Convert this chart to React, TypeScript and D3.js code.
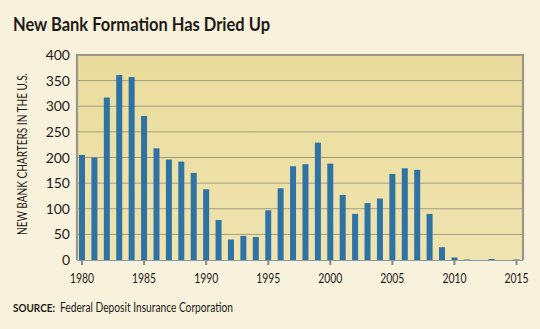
import React from "react";
import * as d3 from "d3";

const years = d3.range(1980, 2016);
const charters = [205, 200, 317, 361, 357, 281, 218, 196, 192, 170, 138, 78, 40, 47, 45, 97, 140, 183, 187, 229, 188, 127, 90, 111, 120, 168, 179, 176, 90, 25, 5, 1, 0, 2, 0, 1];
const yTicks = [0, 50, 100, 150, 200, 250, 300, 350, 400];
const xTicks = [1980, 1985, 1990, 1995, 2000, 2005, 2010, 2015];

const W = 540, H = 329;
const plot = { left: 77, right: 523, top: 55, bottom: 260 };

export default function App() {
  const x = d3.scaleLinear().domain([1980, 2015]).range([82, 516.5]);
  const y = d3.scaleLinear().domain([0, 400]).range([plot.bottom, plot.top]);
  const barW = 6;
  const font = "'Lato', 'Open Sans', sans-serif";
  return (
    <svg width={W} height={H} style={{ position: "absolute", left: 0, top: 0, display: "block" }}>
      <defs>
        <linearGradient id="pf" x1="0" y1="0" x2="0" y2="1">
          <stop offset="0" stopColor="#eadc9c" />
          <stop offset="1" stopColor="#efe4b0" />
        </linearGradient>
      </defs>
      <rect x={0} y={0} width={W} height={H} fill="#f8f2dc" />
      <text x={13} y={31} fontFamily={font} fontWeight={700} fontSize={19} fill="#1e1a16" textLength={257} lengthAdjust="spacingAndGlyphs">New Bank Formation Has Dried Up</text>
      <rect x={plot.left} y={plot.top} width={plot.right - plot.left} height={plot.bottom - plot.top} fill="url(#pf)" />
      {yTicks.filter(t => t > 0 && t < 400).map(t => (
        <line key={t} x1={plot.left} x2={plot.right} y1={y(t)} y2={y(t)} stroke="#a39c7c" strokeWidth={1} />
      ))}
      {years.map((yr, i) => (
        <rect key={yr} x={x(yr) - barW / 2} y={y(charters[i])} width={barW} height={Math.max(0, plot.bottom - y(charters[i]))} fill="#2f72a4" />
      ))}
      <path d={`M${plot.left},${plot.bottom} V${plot.top} H${plot.right} V${plot.bottom}`} fill="none" stroke="#9a968c" strokeWidth={2.2} />
      <line x1={plot.left} x2={plot.right} y1={plot.bottom + 0.5} y2={plot.bottom + 0.5} stroke="#8e9aa6" strokeWidth={1} />
      {xTicks.map(t => (
        <line key={t} x1={x(t)} x2={x(t)} y1={plot.bottom} y2={plot.bottom + 5} stroke="#8a8a8a" strokeWidth={2} />
      ))}
      {yTicks.map(t => (
        <text key={t} x={70} y={y(t) + 5} textAnchor="end" fontFamily={font} fontSize={14} fill="#1e1a16">{t}</text>
      ))}
      {xTicks.map(t => (
        <text key={t} x={x(t) - 12} y={282.5} fontFamily={font} fontSize={14} fill="#1e1a16" textLength={24} lengthAdjust="spacingAndGlyphs">{t}</text>
      ))}
      <text transform={`translate(27,235) rotate(-90)`} fontFamily={font} fontSize={12.5} fill="#1e1a16" textLength={162} lengthAdjust="spacingAndGlyphs">NEW BANK CHARTERS IN THE U.S.</text>
      <text x={13} y={312} fontFamily={font} fontSize={11} fontWeight={700} fill="#1e1a16" textLength={42} lengthAdjust="spacingAndGlyphs">SOURCE:</text>
      <text x={60} y={312} fontFamily={font} fontSize={12.5} fill="#1e1a16" textLength={173} lengthAdjust="spacingAndGlyphs">Federal Deposit Insurance Corporation</text>
    </svg>
  );
}
